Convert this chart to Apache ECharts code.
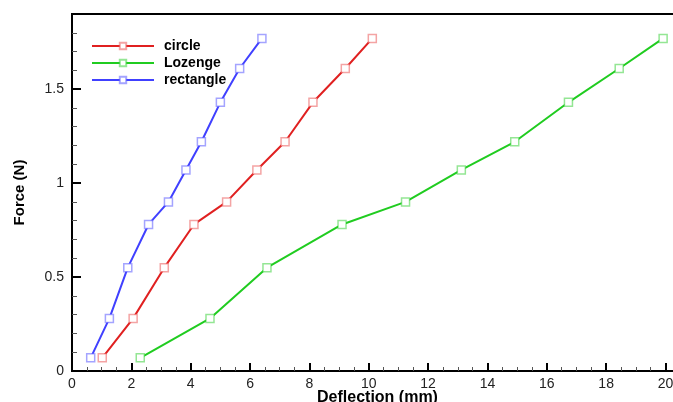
<!DOCTYPE html>
<html>
<head>
<meta charset="utf-8">
<script src="https://cdn.jsdelivr.net/npm/echarts@6/dist/echarts.min.js"></script>
<style>
  html, body { margin: 0; padding: 0; background: #fff; }
  #chart { width: 673px; height: 402px; }
</style>
</head>
<body>
<div id="chart"></div>
<script>
// Force levels shared by all three cross-sections (N)
const force = [0.07, 0.28, 0.55, 0.78, 0.90, 1.07, 1.22, 1.43, 1.61, 1.77];
// Deflection (mm) measured at each force level
const circleDefl    = [1.02, 2.06, 3.11, 4.11, 5.21, 6.23, 7.18, 8.12, 9.21, 10.12];
const lozengeDefl   = [2.30, 4.65, 6.57, 9.10, 11.24, 13.12, 14.92, 16.73, 18.44, 19.92];
const rectangleDefl = [0.63, 1.26, 1.88, 2.58, 3.25, 3.84, 4.36, 5.00, 5.65, 6.40];

const seriesNames = ['circle', 'Lozenge', 'rectangle'];
const lineColors = ['#e02020', '#20cc20', '#4040ff'];
const markColors = ['rgba(235,90,90,0.55)', 'rgba(60,210,60,0.55)', 'rgba(90,90,255,0.55)'];
const deflections = [circleDefl, lozengeDefl, rectangleDefl];

const font = '"Liberation Sans", Arial, sans-serif';

const chart = echarts.init(document.getElementById('chart'), null, { renderer: 'canvas' });

chart.setOption({
  animation: false,
  backgroundColor: '#fff',
  grid: {
    left: 72, top: 14, right: -10, bottom: 31,
    outerBoundsMode: 'none', containLabel: false,
    show: true, borderColor: '#000', borderWidth: 2, backgroundColor: 'transparent'
  },
  legend: {
    left: 91, top: 39, orient: 'vertical', padding: 0,
    itemWidth: 62, itemHeight: 8, itemGap: 3,
    data: seriesNames,
    textStyle: { fontFamily: font, fontWeight: 'bold', fontSize: 14, color: '#000', padding: [0, 0, 0, 5] }
  },
  xAxis: {
    type: 'value', min: 0, max: 20.59, interval: 2,
    name: 'Deflection (mm)', nameLocation: 'middle', nameGap: 19, nameMoveOverlap: false,
    nameTextStyle: { fontFamily: font, fontWeight: 'bold', fontSize: 16, color: '#000', verticalAlign: 'top' },
    axisLine: { show: true, lineStyle: { color: '#000', width: 2 } },
    axisTick: { show: true, inside: true, length: 8, lineStyle: { color: '#000', width: 2 } },
    minorTick: { show: true, splitNumber: 4, length: 4, lineStyle: { color: '#555', width: 1 } },
    axisLabel: { fontFamily: font, fontSize: 14, color: '#222', margin: 6, showMaxLabel: false },
    splitLine: { show: false }
  },
  yAxis: {
    type: 'value', min: 0, max: 1.9, interval: 0.5,
    name: 'Force (N)', nameLocation: 'middle', nameGap: 45, nameRotate: 90, nameMoveOverlap: false,
    nameTextStyle: { fontFamily: font, fontWeight: 'bold', fontSize: 15, color: '#000' },
    axisLine: { show: true, lineStyle: { color: '#000', width: 2 } },
    axisTick: { show: true, inside: true, length: 9, lineStyle: { color: '#000', width: 2 } },
    minorTick: { show: true, splitNumber: 5, length: 5, lineStyle: { color: '#555', width: 1 } },
    axisLabel: { fontFamily: font, fontSize: 14, color: '#222', margin: 8, showMaxLabel: false },
    splitLine: { show: false }
  },
  series: seriesNames.map((name, i) => ({
    name: name,
    type: 'line',
    data: deflections[i].map((d, k) => [d, force[k]]),
    symbol: 'rect',
    symbolSize: 8,
    showAllSymbol: true,
    lineStyle: { color: lineColors[i], width: 2 },
    itemStyle: { color: '#fff', borderColor: markColors[i], borderWidth: 1.5 },
    color: lineColors[i],
    z: 3 - i
  }))
});
</script>
</body>
</html>
